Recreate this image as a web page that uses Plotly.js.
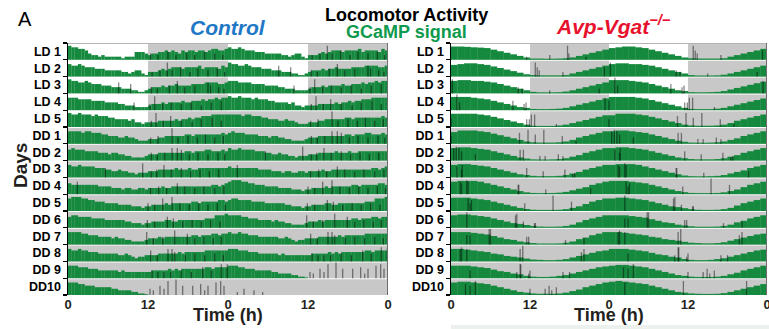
<!DOCTYPE html>
<html><head><meta charset="utf-8">
<script src="https://cdn.plot.ly/plotly-3.0.1.min.js"></script>
<style>html,body{margin:0;padding:0;background:#fff}#chart{width:769px;height:329px}</style>
</head><body><div id="chart"></div>
<script>
// ---------- DATA ----------
const rowLabels = ['LD 1','LD 2','LD 3','LD 4','LD 5','DD 1','DD 2','DD 3','DD 4','DD 5','DD 6','DD 7','DD 8','DD 9','DD10'];
// lighting of each recorded day (day k = left half of row k, right half of row k-1)
const dayLighting = ['LD','LD','LD','LD','LD','DD','DD','DD','DD','DD','DD','DD','DD','DD','DD','DD'];
const xTickVals = [0, 12, 24, 36, 48];
const xTickText = ['0', '12', '0', '12', '0'];

// Control GCaMP signal, 30-min bins, 0-10 (fraction of row height x10), one array per day
const ctlGreen = [
 [9,8,8,7,7,6,4,3,3,2,3,2,2,2,2,2,1,2,2,2,5,5,5,4,3,4,4,5,5,6,5,6,5,4,6,5,6,6,5,6,6,5,6,7,7,6,6,7],
 [8,7,7,8,7,6,6,6,5,5,5,4,4,4,4,4,3,3,2,3,4,4,2,1,3,3,3,4,5,4,5,6,6,6,5,6,6,6,6,7,5,6,6,6,6,5,7,6],
 [9,8,8,7,7,8,7,6,6,6,5,5,5,4,4,4,3,3,3,2,2,1,1,2,3,4,4,4,5,4,5,5,6,5,5,5,5,6,6,6,6,7,7,7,7,6,6,7],
 [8,8,8,7,7,7,7,6,6,6,6,5,5,5,5,4,4,3,3,3,2,2,2,2,3,4,4,4,5,4,5,5,5,5,6,5,5,6,6,6,7,6,7,7,8,7,8,8],
 [9,8,8,9,8,8,8,7,8,7,7,7,6,6,5,5,5,5,4,5,3,3,2,3,3,3,3,4,4,4,4,4,5,4,5,5,6,5,6,6,7,7,7,8,8,8,8,8],
 [8,8,8,8,7,8,8,7,7,7,6,6,5,5,5,4,4,5,4,4,3,2,2,2,3,3,3,4,4,5,5,5,5,5,5,6,6,5,6,6,6,6,6,6,6,6,7,6],
 [7,8,7,7,7,6,6,6,6,5,5,5,4,5,5,4,4,3,3,2,2,2,2,3,4,4,4,5,5,5,5,5,5,5,5,6,6,5,6,6,6,7,7,6,6,6,7,6],
 [8,7,7,8,7,7,7,7,6,6,6,5,5,4,4,5,4,4,3,3,2,3,3,3,4,4,4,5,5,5,5,5,6,5,5,5,6,5,5,6,6,6,6,6,6,6,6,6],
 [7,6,6,6,6,6,6,6,6,5,5,5,5,4,4,4,3,4,4,3,3,4,4,3,4,4,4,4,5,4,4,5,5,5,5,5,5,5,5,5,5,5,5,6,6,5,6,7],
 [8,9,9,9,8,8,7,7,6,6,6,5,5,5,5,4,4,4,4,3,3,3,2,3,3,4,4,4,4,5,4,5,5,5,5,5,5,6,6,5,6,6,6,6,6,7,7,6],
 [7,8,8,7,7,7,7,6,6,6,6,5,5,5,5,5,5,4,4,3,3,3,2,3,3,4,4,4,4,5,5,4,4,5,5,5,5,5,5,5,5,6,6,6,8,8,8,9],
 [8,8,8,8,7,7,6,6,6,5,5,5,5,4,5,4,4,3,3,2,2,2,2,3,4,4,4,5,4,5,5,5,5,5,5,5,5,6,6,5,6,6,6,7,7,6,7,7],
 [8,7,7,8,7,7,6,6,6,5,5,5,5,5,5,4,4,5,4,3,2,3,3,4,4,4,4,5,5,5,5,5,5,6,5,6,6,6,6,6,6,7,7,7,7,7,7,7],
 [8,8,8,7,7,7,6,6,6,5,5,5,5,5,5,4,5,4,4,4,4,4,4,4,4,5,5,5,5,5,6,5,6,5,6,6,6,6,6,6,6,7,7,6,7,7,7,7],
 [8,8,8,7,7,6,6,6,5,5,5,5,5,4,4,3,3,3,3,2,2,1,1,0.5,0,0,0,0,0,0,0,0,0,0,0,0,0,0,0,0,0,0,0,0,0,0,0,0]
];
// Avp-Vgat-/- GCaMP signal, 1-h bins, 0-10
const avpGreen = [
 [8.5,8.5,8.3,8,7.8,7.5,6.5,5.5,4.5,3.5,2.5,1.5,0.8,0.8,0.7,0.7,0.8,1,1.5,2.5,3.5,4.5,5.5,6.5],
 [7.5,8,8.5,8.5,8,7.5,6.5,5.5,4.5,3.5,2.5,1.5,1,0.8,0.8,0.8,0.8,1,2,3,4,5,6,7],
 [8,8.5,8.5,8,8,7.5,7,6,5,4,3,2,1,0.7,0.7,0.7,0.8,1.2,2,3,4,5,6,7],
 [8.5,8.5,8.5,8,7.5,7,6,5,4,3,2,1.5,0.8,0.7,0.7,0.8,1,1.5,2.5,3.5,4.5,5.5,6.5,7.5],
 [8.5,8.5,8.5,8.5,8,7.5,6.5,5.5,4.5,3.5,2.5,1.5,0.8,0.7,0.7,0.7,1,1.5,2.5,3.5,4.5,5.5,6.5,7.5],
 [7.5,8.5,8.5,8.5,8,7.5,6.5,5.5,4.5,3.5,2.5,1.5,1,0.8,0.8,0.8,1,1.5,2.5,4,5,6,7,8],
 [8,8.5,8.5,8,7.5,7,6,5,4,3,2,1.3,0.8,0.7,0.7,0.8,1,1.5,2.5,3.5,5,6,7,8],
 [8,8.5,8.5,8,7.5,7,6,5,4,3,2,1.5,1,0.8,0.8,0.8,1,1.5,2.5,3.5,5,6,7,8],
 [8,8.5,8.5,8.5,8,7,6,5,4,3,2,1.2,0.8,0.7,0.7,0.8,1,1.5,2.5,3.5,4.5,6,7,8],
 [8.5,8.5,8.5,8,7.5,7,6,5,4,3,2,1.3,0.8,0.7,0.7,0.7,0.8,1.2,2,3,4.5,6,7,8],
 [8,8.5,8.5,8,7.5,7,6,5,4,3,2.5,1.8,1.2,0.8,0.7,0.7,0.8,1.2,2,3.5,5,6,7,8],
 [8,8,8,7.5,7,6.5,5.5,4.5,3.5,3,2,1.5,1,0.7,0.7,0.7,0.8,1.2,2,3.5,4.5,6,7,8],
 [8,8,7.5,7,6.5,6,5,4.5,3.5,3,2.5,1.8,1.2,1,0.8,0.8,1,1.5,2.5,3.5,4.5,5.5,6.5,7],
 [8,8,8,7.5,7,6.5,5.5,4.5,4,3,2.5,1.5,1,0.8,0.8,1,1.5,2,3,4,5,6,7,7.5],
 [8,8.5,8.5,8,7.5,7,6,5,4,3,2,1.5,1,0.8,0.8,0.8,1,1.5,2.5,3.5,5,6,7,8],
 [8.5,9,8.5,8,7.5,7,6,5,4,3,2,1.5,1,0.8,0.7,0.7,0.8,1.2,2,3,4,5,6,7]
];
// Locomotor activity: per day, [hour, height 0-10]
const ctlActivity = [
 [[12.4,4],[13.5,3],[15,5],[16.2,3],[17.8,4],[19,3],[20.5,5],[22,4],[23.2,3]],
 [[12.6,3],[13.8,4],[14.9,9],[15.6,4],[16.9,6],[18.3,3],[19.5,5],[21,4],[22.4,5],[23.5,3]],
 [[7.6,7],[9.4,6],[12.5,4],[13.4,3],[15.2,5],[16.4,8],[17.5,4],[19,5],[21,7],[21.4,5],[22.6,4],[23.4,3]],
 [[9.9,5],[12.3,4],[13,9],[14.2,4],[15.5,5],[17,4],[18.5,5],[20,3],[21.5,5],[23,6]],
 [[12.5,4],[13.2,9],[14.3,4],[15.4,7],[17,4],[18.6,3],[20,5],[21.6,6],[23,4]],
 [[12.4,4],[13.5,5],[15.6,10],[16.5,4],[18,5],[19.4,4],[20.6,6],[22,4],[23.3,5]],
 [[12.5,5],[13.4,4],[14.5,5],[15.6,8],[16.4,8],[17,7],[18.2,4],[19.5,5],[21,4],[22.5,5],[23.5,4]],
 [[5.6,6],[11.2,9],[12.5,4],[13.3,5],[14.4,8],[15.5,5],[17,6],[18.4,4],[19.8,5],[21.2,4],[22.6,5]],
 [[1.4,8],[12.4,4],[13.6,5],[14.8,4],[16.4,7],[17.5,5],[19,4],[20.4,5],[22,4],[23.4,5]],
 [[12,5],[13,4],[14.2,8],[15.6,9],[16.8,5],[18.2,4],[19.6,5],[21,4],[22.4,5],[23.6,4]],
 [[11.9,5],[13,4],[14.9,7],[15.8,6],[17.2,4],[18.6,5],[20,4],[21.4,5],[22.8,4]],
 [[11.8,8],[12.8,4],[14.2,5],[16,9],[17.9,7],[19,4],[20.4,5],[21.8,4],[23,5]],
 [[12.4,7],[13.4,4],[15,8],[15.6,8],[16,6],[17.6,4],[19,5],[20.5,4],[22,5],[23.3,4]],
 [[12.6,5],[13.5,4],[14.4,4],[15.4,4],[17,5],[18.5,4],[20.2,7],[21.5,5],[23,9],[23.9,9]],
 [[12.3,4],[12.8,3],[13.8,6],[14.4,4],[15,9],[16.2,10],[17.2,6],[18.7,6],[19.9,7],[20.5,3],[21,6],[22.2,8],[22.9,9],[23.4,6]],
 [[1.4,2],[2.4,4],[3.9,3],[5.2,2]]
];
const avpActivity = [
 [[11.5,2],[15,3],[17.7,9],[17.9,4],[20.5,2]],
 [[12.8,9],[13.1,6],[13.4,4],[17,3],[23.3,6]],
 [[0.2,9],[10.2,4],[10.8,3],[15,2],[22.5,3]],
 [[0.9,10],[1.3,5],[9.4,6],[11.1,4],[11.4,5],[23.4,8]],
 [[0,6],[11.5,5],[11.9,5],[12.2,8],[12.7,8],[16,2]],
 [[0,5],[10.4,7],[11.7,9],[12.8,6],[14.1,9],[16.9,5],[19,2]],
 [[0.4,8],[0.8,9],[1.2,8],[1.6,6],[3.7,4],[10.5,7],[11,7],[13.5,3],[14.3,3],[16.3,4],[17,3]],
 [[0.9,7],[1.6,5],[1.7,8],[11.5,6],[14,4],[17.3,5],[18.5,2],[18.8,3]],
 [[1.4,8],[1.6,7],[2.4,9],[2.6,8],[10.2,6],[10.3,6],[14.4,3],[21.2,4]],
 [[2.6,8],[2.9,5],[3.1,7],[11.2,5],[15.5,10],[18.3,6]],
 [[2.4,10],[9.8,8],[10,9],[11,4],[12.7,3],[12.8,3]],
 [[2.4,6],[2.9,6],[5.8,10],[6,10],[11.5,5],[11.8,5],[17.4,3],[20.2,4]],
 [[1.4,8],[1.6,9],[2.4,8],[10.5,8],[10.9,10],[19.8,6],[20.2,8]],
 [[2.9,5],[10,4],[10.5,9],[10.6,9],[11.8,3],[12,5],[17,4],[18,4]],
 [[2.2,7],[2.9,6],[3.7,9],[12,4],[14.3,4],[14.9,6],[15.3,3],[16,5]],
 [[2.4,8],[11.3,9],[20.9,9]]
];

// ---------- STYLE ----------
const NROWS = rowLabels.length;
const FONT = 'Liberation Sans, Arial, Helvetica, sans-serif';
const GREEN = '#15893d';
const SHADE = '#c8c8c8';
const ROWFILL = 0.94;   // fraction of row used (leaves white separator)
const HSCALE = 0.93;    // full-scale value fills this fraction of a row
const W = 769, H = 329;

function rowBottom(r) { return NROWS - 1 - r; }

function greenTrace(days, xa, ya) {
  const x = [], y = [], base = [], w = [];
  for (let r = 0; r < NROWS; r++) {
    [0, 1].forEach(half => {
      const d = days[r + half];
      if (!d) return;
      const bw = 24 / d.length;
      d.forEach((v, i) => {
        if (v <= 0) return;
        x.push(half * 24 + (i + 0.5) * bw);
        y.push(v / 10 * HSCALE);
        base.push(rowBottom(r));
        w.push(bw * 1.04);
      });
    });
  }
  return {type: 'bar', x, y, base, width: w, xaxis: xa, yaxis: ya,
          marker: {color: GREEN, line: {width: 0}}, hoverinfo: 'skip', showlegend: false};
}

function activityTrace(days, xa, ya) {
  const x = [], y = [], base = [];
  for (let r = 0; r < NROWS; r++) {
    [0, 1].forEach(half => {
      const d = days[r + half];
      if (!d) return;
      d.forEach(([h, v]) => {
        x.push(half * 24 + h);
        y.push(v / 10 * HSCALE);
        base.push(rowBottom(r));
      });
    });
  }
  return {type: 'bar', x, y, base, width: 0.2, xaxis: xa, yaxis: ya,
          marker: {color: 'rgba(0,0,0,0.45)', line: {width: 0}}, hoverinfo: 'skip', showlegend: false};
}

function shadeShapes(xref, yref) {
  const shapes = [];
  for (let r = 0; r < NROWS; r++) {
    const iv = [];
    [0, 1].forEach(half => {
      const L = dayLighting[r + half];
      if (!L) return;
      const s = L === 'LD' ? half * 24 + 12 : half * 24;
      const e = half * 24 + 24;
      if (iv.length && Math.abs(iv[iv.length - 1][1] - s) < 1e-9) iv[iv.length - 1][1] = e;
      else iv.push([s, e]);
    });
    iv.forEach(([s, e]) => shapes.push({type: 'rect', xref, yref, layer: 'below',
      x0: s, x1: e, y0: rowBottom(r), y1: rowBottom(r) + ROWFILL,
      fillcolor: SHADE, line: {width: 0}}));
  }
  // frame: top and right edges
  shapes.push({type: 'line', xref, yref, x0: 0, x1: 48, y0: NROWS, y1: NROWS, line: {color: '#9a9a9a', width: 1.5}});
  shapes.push({type: 'line', xref, yref, x0: 48, x1: 48, y0: 0, y1: NROWS, line: {color: '#6e6e6e', width: 2}});
  return shapes;
}

const yCenters = rowLabels.map((_, r) => rowBottom(r) + 0.5);
const yDomain = [1 - 295 / H, 1 - 43 / H];

function xAxis(domain, anchor) {
  return {domain, anchor, range: [0, 48], showgrid: false, zeroline: false, showline: false,
          tickmode: 'array', tickvals: xTickVals, ticktext: xTickText.map(t => '<b>' + t + '</b>'),
          ticks: '', tickfont: {family: FONT, size: 13, color: '#231f20'}, ticklabeloverflow: 'allow',
          fixedrange: true};
}
function yAxis(anchor) {
  return {domain: yDomain, anchor, range: [0, NROWS], showgrid: false, zeroline: false,
          showline: true, linecolor: '#000', linewidth: 1.5,
          tickmode: 'array', tickvals: yCenters, ticktext: rowLabels.map(t => '<b>' + t + '</b>'),
          ticks: 'outside', ticklen: 3, tickcolor: 'rgba(0,0,0,0)',
          minor: {tickmode: 'linear', tick0: 0, dtick: 1, ticks: 'outside', ticklen: 4, tickwidth: 1.2, tickcolor: '#000', showgrid: false},
          tickfont: {family: FONT, size: 12.5, color: '#000'}, fixedrange: true};
}

const traces = [
  greenTrace(ctlGreen, 'x', 'y'),
  activityTrace(ctlActivity, 'x', 'y'),
  greenTrace(avpGreen, 'x2', 'y2'),
  activityTrace(avpActivity, 'x2', 'y2')
];

function note(text, px, py, size, color, extra) {
  return Object.assign({text, x: px / W, y: 1 - py / H, xref: 'paper', yref: 'paper', showarrow: false,
    xanchor: 'center', yanchor: 'middle', font: {family: FONT, size, color}}, extra || {});
}

const layout = {
  width: W, height: H, margin: {l: 0, r: 0, t: 0, b: 0},
  paper_bgcolor: '#fff', plot_bgcolor: '#fff', barmode: 'overlay', showlegend: false,
  xaxis: xAxis([68 / W, 388 / W], 'y'),
  yaxis: yAxis('x'),
  xaxis2: xAxis([451 / W, 767 / W], 'y2'),
  yaxis2: yAxis('x2'),
  shapes: [...shadeShapes('x', 'y'), ...shadeShapes('x2', 'y2'),
    {type: 'rect', xref: 'paper', yref: 'paper', x0: 451 / W, x1: 1, y0: 0, y1: 4 / H, fillcolor: '#edf1ee', line: {width: 0}}],
  annotations: [
    note('A', 25, 19, 20, '#000'),
    note('<b>Locomotor Activity</b>', 406, 15, 18, '#000'),
    note('<b>GCaMP signal</b>', 406, 32, 18, '#0e9a4c'),
    note('<b><i>Control</i></b>', 228, 27, 21, '#1f78c6'),
    note('<b><i>Avp-Vgat<sup>−/−</sup></i></b>', 613, 25, 21, '#e8112d'),
    note('<b>Days</b>', 20, 166, 19, '#231f20', {textangle: -90}),
    note('<b>Time (h)</b>', 228, 315, 18, '#231f20'),
    note('<b>Time (h)</b>', 609, 315, 18, '#231f20')
  ]
};

Plotly.newPlot('chart', traces, layout, {staticPlot: true, displayModeBar: false});
</script></body></html>
